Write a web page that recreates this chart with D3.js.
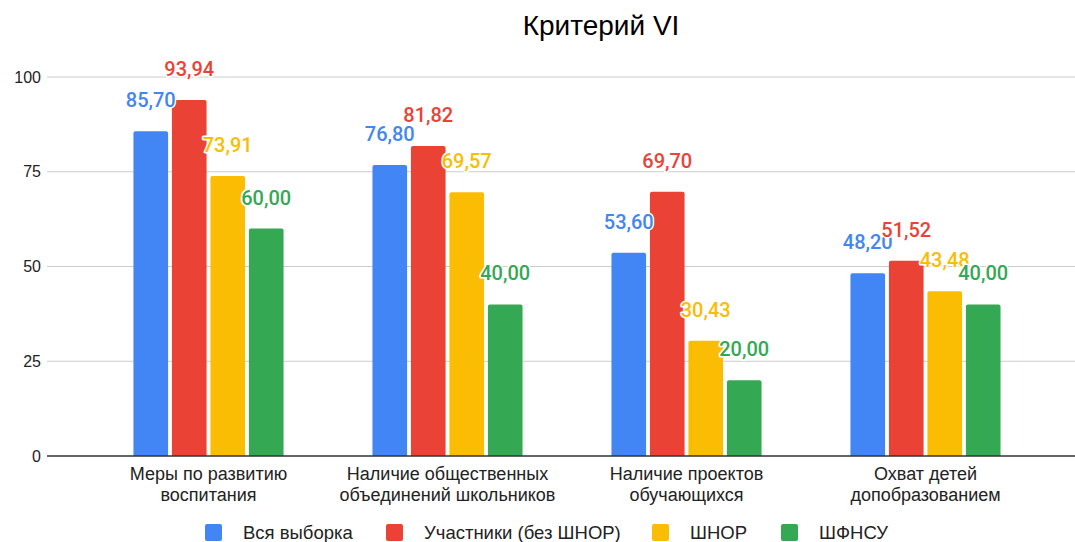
<!DOCTYPE html>
<html>
<head>
<meta charset="utf-8">
<script src="https://cdn.jsdelivr.net/npm/d3@7"></script>
<style>
  body { margin: 0; background: #fff; }
  text { font-family: "Liberation Sans", Arial, sans-serif; }
</style>
</head>
<body>
<div class="chart"></div>
<script>
var width = 1075, height = 542;

var categories = [
	["Меры по развитию", "воспитания"],
	["Наличие общественных", "объединений школьников"],
	["Наличие проектов", "обучающихся"],
	["Охват детей", "допобразованием"]
];
var seriesNames = ["Вся выборка", "Участники (без ШНОР)", "ШНОР", "ШФНСУ"];
var colors = ["#4285f4", "#ea4335", "#fbbc04", "#34a853"];
var allSample = [85.70, 76.80, 53.60, 48.20];
var participants = [93.94, 81.82, 69.70, 51.52];
var shnor = [73.91, 69.57, 30.43, 43.48];
var shfnsu = [60.00, 40.00, 20.00, 40.00];
var yTicks = [0, 25, 50, 75, 100];

var series = [allSample, participants, shnor, shfnsu];

var svg = d3.select('.chart')
	.append('svg')
	.attr('width', width)
	.attr('height', height);

var x0 = d3.scaleBand()
	.domain(d3.range(categories.length))
	.range([89, 1045])
	.paddingInner(0.372)
	.paddingOuter(0.186);

var x1 = d3.scaleBand()
	.domain(d3.range(series.length))
	.range([0, x0.bandwidth()])
	.paddingInner(0.1);

var y = d3.scaleLinear().domain([0, 100]).range([456, 77]);

// title
svg.append('text')
	.attr('x', 601)
	.attr('y', 35)
	.attr('text-anchor', 'middle')
	.style('font-size', '28px')
	.attr('fill', '#000')
	.text('Критерий VI');

// grid + y labels
var yAxis = svg.append('g').attr('class', 'y-axis');
yAxis.selectAll('line')
	.data(yTicks.filter(function(d) { return d > 0; }))
	.enter().append('line')
	.attr('x1', 47).attr('x2', width)
	.attr('y1', function(d) { return y(d); })
	.attr('y2', function(d) { return y(d); })
	.attr('stroke', '#cccccc')
	.attr('stroke-width', 1);

yAxis.selectAll('text')
	.data(yTicks)
	.enter().append('text')
	.attr('x', 41)
	.attr('y', function(d) { return y(d); })
	.attr('dy', '0.35em')
	.attr('text-anchor', 'end')
	.style('font-size', '16px')
	.attr('fill', '#222')
	.text(function(d) { return d; });

// bars
var groups = svg.append('g')
	.selectAll('g')
	.data(categories)
	.enter().append('g')
	.attr('transform', function(d, i) { return 'translate(' + x0(i) + ',0)'; });

groups.selectAll('path')
	.data(function(d, i) { return series.map(function(s, j) { return { s: j, v: s[i] }; }); })
	.enter().append('path')
	.attr('fill', function(d) { return colors[d.s]; })
	.attr('d', function(d) {
		var bx = x1(d.s), bw = x1.bandwidth(), by = y(d.v), b0 = y(0), r = 2;
		return 'M' + bx + ',' + b0 + 'V' + (by + r) + 'Q' + bx + ',' + by + ' ' + (bx + r) + ',' + by +
			'H' + (bx + bw - r) + 'Q' + (bx + bw) + ',' + by + ' ' + (bx + bw) + ',' + (by + r) + 'V' + b0 + 'Z';
	});

// baseline
svg.append('line')
	.attr('x1', 47).attr('x2', width)
	.attr('y1', y(0)).attr('y2', y(0))
	.attr('stroke', '#333')
	.attr('stroke-width', 1.5);

// value labels (white halo like in the source chart)
var fmt = function(v) { return d3.format('.2f')(v).replace('.', ','); };
groups.selectAll('.val')
	.data(function(d, i) { return series.map(function(s, j) { return { s: j, v: s[i] }; }); })
	.enter().append('text')
	.attr('class', 'val')
	.attr('x', function(d) { return x1(d.s) + x1.bandwidth() / 2; })
	.attr('y', function(d) { return y(d.v) - 24; })
	.attr('text-anchor', 'middle')
	.style('font-family', 'Roboto, sans-serif')
	.style('font-size', '20px')
	.style('font-weight', 500)
	.attr('fill', function(d) { return colors[d.s]; })
	.attr('stroke', '#fff')
	.attr('stroke-width', 3)
	.attr('paint-order', 'stroke')
	.attr('stroke-linejoin', 'round')
	.text(function(d) { return fmt(d.v); });

// category labels
groups.append('text')
	.attr('x', x0.bandwidth() / 2)
	.attr('text-anchor', 'middle')
	.style('font-size', '18px')
	.attr('fill', '#222')
	.selectAll('tspan')
	.data(function(d) { return d; })
	.enter().append('tspan')
	.attr('x', x0.bandwidth() / 2)
	.attr('y', function(d, i) { return 480 + i * 21; })
	.text(function(d) { return d; });

// legend
var legendX = [205, 386, 652, 781];
var legend = svg.append('g')
	.selectAll('g')
	.data(seriesNames)
	.enter().append('g')
	.attr('transform', function(d, i) { return 'translate(' + legendX[i] + ',524)'; });

legend.append('rect')
	.attr('width', 17).attr('height', 17)
	.attr('rx', 2)
	.attr('fill', function(d, i) { return colors[i]; });

legend.append('text')
	.attr('x', 38)
	.attr('y', 9)
	.attr('dy', '0.35em')
	.style('font-size', '18.5px')
	.attr('fill', '#222')
	.text(function(d) { return d; });
</script>
</body>
</html>
